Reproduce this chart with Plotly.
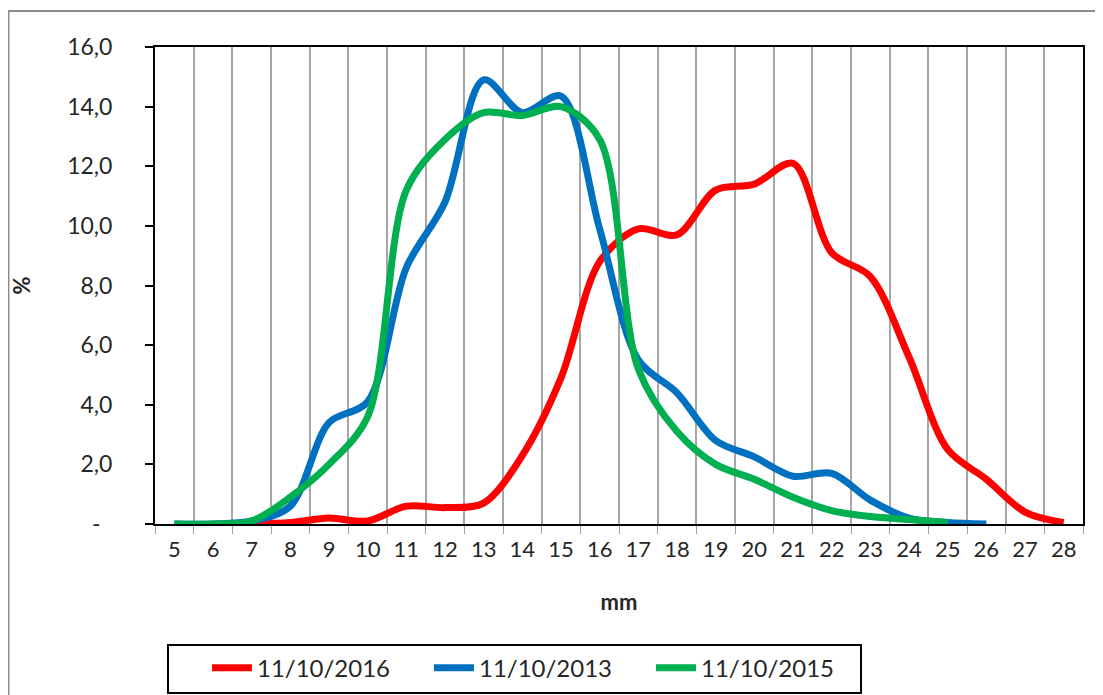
import plotly.graph_objects as go

categories = [str(c) for c in range(5, 29)]

x_2016 = [str(c) for c in range(7, 29)]
y_2016 = [0.0, 0.05, 0.2, 0.1, 0.6, 0.55, 0.7, 2.3, 4.9, 8.8, 9.9, 9.7, 11.2, 11.4, 12.1,
          9.1, 8.3, 5.6, 2.5, 1.5, 0.4, 0.05]

x_2013 = [str(c) for c in range(5, 27)]
y_2013 = [0.0, 0.0, 0.1, 0.6, 3.4, 4.1, 8.6, 10.8, 14.9, 13.8, 14.35, 9.9, 5.5, 4.4, 2.8,
          2.25, 1.6, 1.7, 0.8, 0.2, 0.05, 0.0]

x_2015 = [str(c) for c in range(5, 26)]
y_2015 = [0.0, 0.0, 0.1, 0.9, 2.0, 3.6, 11.2, 12.9, 13.8, 13.7, 14.0, 12.9, 5.2, 3.1, 2.0,
          1.5, 0.9, 0.45, 0.25, 0.15, 0.05]

y_tickvals = [0, 2, 4, 6, 8, 10, 12, 14, 16]
y_ticktext = ["-\u00a0\u00a0", "2,0", "4,0", "6,0", "8,0", "10,0", "12,0", "14,0", "16,0"]

series = [
    ("11/10/2016", x_2016, y_2016, "#ff0000"),
    ("11/10/2013", x_2013, y_2013, "#0070c0"),
    ("11/10/2015", x_2015, y_2015, "#00b050"),
]

FONT = "Lato"
TXT = "#262626"

fig = go.Figure()
for name, xs, ys, col in series:
    fig.add_trace(go.Scatter(
        x=xs, y=ys, name=name, mode="lines",
        line=dict(color=col, width=7, shape="spline", smoothing=0.9),
    ))

fig.update_layout(
    width=1095, height=687,
    margin=dict(l=147, r=20, t=39, b=171, autoexpand=False),
    paper_bgcolor="white", plot_bgcolor="white",
    font=dict(family=FONT, size=23, color=TXT),
    showlegend=True,
    legend=dict(
        orientation="h", x=0.056, y=-0.302, xanchor="left", yanchor="middle",
        borderwidth=0, bgcolor="rgba(0,0,0,0)",
        font=dict(family=FONT, size=24, color=TXT),
        entrywidth=167, entrywidthmode="pixels",
        itemwidth=40,
    ),
    xaxis=dict(
        type="category", categoryorder="array", categoryarray=categories,
        range=[-0.5, len(categories) - 0.5],
        tickson="boundaries", ticks="outside", ticklen=8, tickcolor="#a0a0a0",
        showgrid=True, gridcolor="#a6a6a6", gridwidth=1.5,
        showline=True, linecolor="black", linewidth=2, mirror=True,
        tickfont=dict(family=FONT, size=22, color=TXT),
        ticklabelstandoff=5,
        title=dict(text="<b>mm</b>", font=dict(family=FONT, size=22, color=TXT), standoff=33),
        zeroline=False, automargin=False,
    ),
    yaxis=dict(
        range=[0, 16], tickvals=y_tickvals, ticktext=y_ticktext,
        ticks="outside", ticklen=8, tickcolor="black", tickwidth=1.5,
        showgrid=False, zeroline=False,
        showline=True, linecolor="black", linewidth=2, mirror=True,
        tickfont=dict(family=FONT, size=23, color=TXT),
        ticklabelstandoff=28,
        title=dict(text="<b>%</b>", font=dict(family=FONT, size=22, color=TXT), standoff=34),
        automargin=False,
    ),
)

# outer chart-area border (left/top visible, right/bottom beyond view)
fig.add_shape(type="rect", xref="paper", yref="paper",
              x0=-0.1579, x1=1.2, y0=-0.5, y1=1.0755,
              line=dict(color="#8c8c8c", width=2), fillcolor="rgba(0,0,0,0)", layer="below")

# legend frame
fig.add_shape(type="rect", xref="paper", yref="paper",
              x0=0.014, x1=0.7608, y0=-0.3543, y1=-0.2537,
              line=dict(color="black", width=2), fillcolor="white", layer="below")

fig.write_html("out.html")
